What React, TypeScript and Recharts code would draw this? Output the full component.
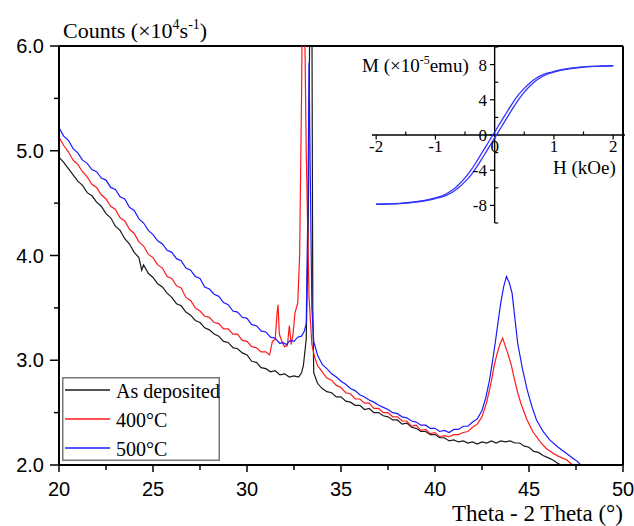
import React from 'react';
import { LineChart, Line, XAxis, YAxis, ReferenceLine, Legend } from 'recharts';

// ---- main XRD chart ----
const xTicks = [20, 22.5, 25, 27.5, 30, 32.5, 35, 37.5, 40, 42.5, 45, 47.5, 50];
const yTicks = [2, 2.5, 3, 3.5, 4, 4.5, 5, 5.5, 6];

const asDeposited: [number, number][] = [
  [20.0, 4.94], [20.25, 4.89], [20.5, 4.83], [20.75, 4.77], [21.0, 4.71], [21.25, 4.67], [21.5, 4.6], [21.75, 4.57],
  [22.0, 4.51], [22.25, 4.47], [22.5, 4.4], [22.75, 4.36], [23.0, 4.28], [23.25, 4.24], [23.5, 4.16], [23.75, 4.11],
  [24.0, 4.03], [24.25, 3.98], [24.4, 3.86], [24.5, 3.91], [24.75, 3.83], [25.0, 3.79], [25.25, 3.73], [25.5, 3.7],
  [25.75, 3.64], [26.0, 3.6], [26.25, 3.54], [26.5, 3.52], [26.75, 3.46], [27.0, 3.43], [27.25, 3.38], [27.5, 3.36],
  [27.75, 3.31], [28.0, 3.29], [28.25, 3.25], [28.5, 3.23], [28.75, 3.18], [29.0, 3.17], [29.25, 3.12], [29.5, 3.11],
  [29.75, 3.07], [30.0, 3.05], [30.25, 2.99], [30.5, 2.98], [30.75, 2.93], [31.0, 2.92], [31.25, 2.89], [31.5, 2.9],
  [31.75, 2.86], [32.0, 2.87], [32.25, 2.84], [32.5, 2.85], [32.75, 2.84], [32.9, 2.88], [33.0, 2.95], [33.15, 3.2],
  [33.25, 4.2], [33.35, 6.5], [33.45, 6.5], [33.5, 3.5], [33.55, 2.88], [33.75, 2.78], [34.0, 2.73], [34.25, 2.7],
  [34.5, 2.69], [34.75, 2.65], [35.0, 2.65], [35.25, 2.61], [35.5, 2.6], [35.75, 2.57], [36.0, 2.57], [36.25, 2.53],
  [36.5, 2.54], [36.75, 2.5], [37.0, 2.5], [37.25, 2.47], [37.5, 2.46], [37.75, 2.43], [38.0, 2.43], [38.25, 2.39],
  [38.5, 2.4], [38.75, 2.36], [39.0, 2.35], [39.25, 2.32], [39.5, 2.32], [39.75, 2.29], [40.0, 2.29], [40.25, 2.26],
  [40.5, 2.26], [40.75, 2.23], [41.0, 2.24], [41.25, 2.22], [41.5, 2.23], [41.75, 2.21], [42.0, 2.22], [42.25, 2.2],
  [42.5, 2.22], [42.75, 2.21], [43.0, 2.23], [43.25, 2.21], [43.5, 2.23], [43.75, 2.22], [44.0, 2.23], [44.25, 2.21],
  [44.5, 2.21], [44.75, 2.18], [45.0, 2.17], [45.25, 2.13], [45.5, 2.12], [45.75, 2.09], [46.0, 2.07], [46.25, 2.05],
  [46.5, 2.02], [46.7, 2.0],
];

const annealed400: [number, number][] = [
  [20.0, 5.13], [20.25, 5.05], [20.5, 4.99], [20.75, 4.91], [21.0, 4.87], [21.25, 4.8], [21.5, 4.75], [21.75, 4.68],
  [22.0, 4.65], [22.25, 4.58], [22.5, 4.54], [22.75, 4.47], [23.0, 4.44], [23.25, 4.36], [23.5, 4.33], [23.75, 4.25],
  [24.0, 4.21], [24.25, 4.13], [24.5, 4.09], [24.75, 4.01], [25.0, 3.98], [25.25, 3.91], [25.5, 3.88], [25.75, 3.8],
  [26.0, 3.78], [26.25, 3.71], [26.5, 3.69], [26.75, 3.6], [27.0, 3.57], [27.25, 3.5], [27.5, 3.47], [27.75, 3.42],
  [28.0, 3.41], [28.25, 3.36], [28.5, 3.35], [28.75, 3.3], [29.0, 3.3], [29.25, 3.25], [29.5, 3.25], [29.75, 3.19],
  [30.0, 3.18], [30.25, 3.13], [30.5, 3.12], [30.75, 3.08], [31.0, 3.08], [31.2, 3.05], [31.35, 3.18], [31.5, 3.2],
  [31.6, 3.45], [31.65, 3.53], [31.72, 3.25], [31.85, 3.18], [32.0, 3.13], [32.15, 3.14], [32.25, 3.33], [32.35, 3.15],
  [32.45, 3.25], [32.55, 3.45], [32.7, 3.55], [32.8, 4.0], [32.9, 5.5], [32.95, 6.5], [33.05, 6.5], [33.15, 5.0],
  [33.3, 3.6], [33.45, 3.15], [33.6, 3.03], [33.75, 2.95], [34.0, 2.89], [34.25, 2.83], [34.5, 2.81], [34.75, 2.76],
  [35.0, 2.74], [35.25, 2.69], [35.5, 2.68], [35.75, 2.63], [36.0, 2.63], [36.25, 2.59], [36.5, 2.59], [36.75, 2.54],
  [37.0, 2.54], [37.25, 2.5], [37.5, 2.5], [37.75, 2.46], [38.0, 2.46], [38.25, 2.42], [38.5, 2.42], [38.75, 2.37],
  [39.0, 2.38], [39.25, 2.33], [39.5, 2.34], [39.75, 2.3], [40.0, 2.31], [40.25, 2.27], [40.5, 2.28], [40.75, 2.27],
  [41.0, 2.29], [41.25, 2.29], [41.5, 2.31], [41.75, 2.32], [42.0, 2.36], [42.25, 2.39], [42.5, 2.46], [42.75, 2.6],
  [43.0, 2.8], [43.15, 2.95], [43.3, 3.06], [43.45, 3.15], [43.6, 3.21], [43.75, 3.13], [43.9, 3.05], [44.05, 2.96],
  [44.2, 2.84], [44.4, 2.69], [44.6, 2.57], [44.9, 2.43], [45.2, 2.32], [45.6, 2.22], [45.9, 2.16], [46.3, 2.11],
  [46.6, 2.08], [47.0, 2.05], [47.3, 2.0],
];

const annealed500: [number, number][] = [
  [20.0, 5.22], [20.25, 5.14], [20.5, 5.1], [20.75, 5.02], [21.0, 4.98], [21.25, 4.91], [21.5, 4.88], [21.75, 4.82],
  [22.0, 4.8], [22.25, 4.74], [22.5, 4.72], [22.75, 4.65], [23.0, 4.63], [23.25, 4.56], [23.5, 4.54], [23.75, 4.46],
  [24.0, 4.43], [24.25, 4.35], [24.5, 4.31], [24.75, 4.24], [25.0, 4.2], [25.25, 4.14], [25.5, 4.11], [25.75, 4.05],
  [26.0, 4.03], [26.25, 3.97], [26.5, 3.95], [26.75, 3.88], [27.0, 3.86], [27.25, 3.8], [27.5, 3.78], [27.75, 3.7],
  [28.0, 3.68], [28.25, 3.63], [28.5, 3.61], [28.75, 3.55], [29.0, 3.53], [29.25, 3.47], [29.5, 3.46], [29.75, 3.41],
  [30.0, 3.4], [30.25, 3.34], [30.5, 3.33], [30.75, 3.28], [31.0, 3.27], [31.25, 3.22], [31.5, 3.21], [31.75, 3.16],
  [31.9, 3.17], [32.1, 3.15], [32.3, 3.19], [32.5, 3.18], [32.7, 3.22], [32.9, 3.23], [33.05, 3.28], [33.15, 3.35],
  [33.25, 4.6], [33.3, 5.84], [33.35, 5.0], [33.45, 3.5], [33.55, 3.18], [33.75, 3.05], [34.0, 2.96], [34.25, 2.92],
  [34.5, 2.87], [34.75, 2.84], [35.0, 2.8], [35.25, 2.77], [35.5, 2.73], [35.75, 2.71], [36.0, 2.67], [36.25, 2.65],
  [36.5, 2.62], [36.75, 2.6], [37.0, 2.57], [37.25, 2.55], [37.5, 2.53], [37.75, 2.5], [38.0, 2.49], [38.25, 2.46],
  [38.5, 2.45], [38.75, 2.42], [39.0, 2.41], [39.25, 2.38], [39.5, 2.38], [39.75, 2.35], [40.0, 2.35], [40.25, 2.32],
  [40.5, 2.33], [40.75, 2.31], [41.0, 2.34], [41.25, 2.34], [41.5, 2.37], [41.75, 2.37], [42.0, 2.41], [42.25, 2.44],
  [42.5, 2.52], [42.7, 2.64], [42.9, 2.81], [43.05, 2.98], [43.2, 3.16], [43.35, 3.36], [43.5, 3.55], [43.65, 3.7],
  [43.8, 3.8], [43.95, 3.74], [44.1, 3.64], [44.25, 3.4], [44.4, 3.16], [44.65, 2.92], [44.9, 2.72], [45.15, 2.56],
  [45.4, 2.43], [45.75, 2.32], [46.1, 2.24], [46.55, 2.17], [47.0, 2.11], [47.3, 2.07], [47.6, 2.03], [47.75, 2.0],
];

const seriesNames = ['As deposited', '400°C', '500°C'];
const seriesColors = ['#1a1a1a', '#ff1a1a', '#1a1aff'];

// ---- inset M-H loop ----
const hMajorTicks = [-2, -1, 0, 1, 2];
const hMinorTicks = [-1.5, -0.5, 0.5, 1.5];
const mMajorTicks = [-8, -4, 0, 4, 8];
const mMinorTicks = [-10, -6, -2, 2, 6, 10];

const upperBranch: [number, number][] = [
  [-2.0, -7.86], [-1.8, -7.83], [-1.6, -7.76], [-1.4, -7.64], [-1.2, -7.45], [-1.0, -7.15], [-0.9, -6.93], [-0.8, -6.62],
  [-0.7, -6.2], [-0.6, -5.6], [-0.5, -4.88], [-0.4, -4.0], [-0.3, -2.97], [-0.2, -1.87], [-0.1, -0.77], [0, 0.33],
  [0.1, 1.43], [0.2, 2.53], [0.3, 3.6], [0.4, 4.55], [0.5, 5.3], [0.6, 5.95], [0.7, 6.45], [0.8, 6.8], [0.9, 7.05],
  [1.0, 7.22], [1.2, 7.5], [1.4, 7.68], [1.6, 7.79], [1.8, 7.84], [2.0, 7.87],
];
const lowerBranch: [number, number][] = [
  [-2.0, -7.87], [-1.8, -7.84], [-1.6, -7.79], [-1.4, -7.68], [-1.2, -7.5], [-1.0, -7.22], [-0.9, -7.05], [-0.8, -6.8],
  [-0.7, -6.45], [-0.6, -5.95], [-0.5, -5.3], [-0.4, -4.55], [-0.3, -3.6], [-0.2, -2.53], [-0.1, -1.43], [0, -0.33],
  [0.1, 0.77], [0.2, 1.87], [0.3, 2.97], [0.4, 4.0], [0.5, 4.88], [0.6, 5.6], [0.7, 6.2], [0.8, 6.62], [0.9, 6.93],
  [1.0, 7.15], [1.2, 7.45], [1.4, 7.64], [1.6, 7.76], [1.8, 7.83], [2.0, 7.86],
];

const SERIF = 'Liberation Serif';
const SANS = 'Liberation Sans';

const toXrd = (pts: [number, number][]) => pts.map(([t, c]) => ({ t, c }));
const toMH = (pts: [number, number][]) => pts.map(([h, m]) => ({ h, m }));

const XTick = (props: any) => {
  const { x, y, payload } = props;
  const v = payload.value;
  const major = v % 5 === 0;
  return (
    <g>
      <line x1={x} y1={y} x2={x} y2={y + (major ? 7 : 5)} stroke="#000" strokeWidth={1.5} />
      {major && (
        <text x={x} y={y + 31} textAnchor="middle" fontSize={20} fontFamily={SANS} fill="#000">
          {v}
        </text>
      )}
    </g>
  );
};

const YTick = (props: any) => {
  const { x, y, payload } = props;
  const v = payload.value;
  const major = Number.isInteger(v);
  return (
    <g>
      <line x1={x} y1={y} x2={x - (major ? 9 : 5)} y2={y} stroke="#000" strokeWidth={1.5} />
      {major && (
        <text x={x - 15} y={y + 7} textAnchor="end" fontSize={20} fontFamily={SANS} fill="#000">
          {v.toFixed(1)}
        </text>
      )}
    </g>
  );
};

const LegendBox = (props: any) => {
  const items = [...(props.payload || [])].sort(
    (a: any, b: any) => seriesNames.indexOf(a.value) - seriesNames.indexOf(b.value)
  );
  return (
    <svg width={158} height={84} style={{ display: 'block' }}>
      <rect x={0.75} y={0.75} width={156.5} height={82.5} fill="#fff" stroke="#777" strokeWidth={1.5} />
      {items.map((it: any, i: number) => {
        const ly = 13 + i * 29;
        return (
          <g key={i}>
            <line x1={3} y1={ly} x2={48} y2={ly} stroke={it.color} strokeWidth={1.5} />
            <text x={54} y={ly + 8} fontSize={20} fontFamily={SERIF} fill="#000">
              {it.value}
            </text>
          </g>
        );
      })}
    </svg>
  );
};

const insetLabel = (value: string, position: string, offset = 4) => ({
  value,
  position,
  offset,
  fill: '#000',
  fontSize: 17,
  fontFamily: SERIF,
});

export default function App() {
  const xrd = [asDeposited, annealed400, annealed500];
  return (
    <div style={{ position: 'absolute', left: 0, top: 0, width: 634, height: 526, background: '#fff' }}>
      <LineChart
        width={634}
        height={526}
        margin={{ top: 46, right: 11, left: 0, bottom: 0 }}
        style={{ position: 'absolute', left: 0, top: 0 }}
      >
        <XAxis
          type="number"
          dataKey="t"
          domain={[20, 50]}
          ticks={xTicks}
          interval={0}
          height={61}
          allowDataOverflow
          axisLine={{ stroke: '#000', strokeWidth: 2 }}
          tickLine={false}
          tickSize={0}
          tickMargin={0}
          tick={<XTick />}
        />
        <YAxis
          type="number"
          domain={[2, 6]}
          ticks={yTicks}
          interval={0}
          width={59}
          allowDataOverflow
          axisLine={{ stroke: '#000', strokeWidth: 2 }}
          tickLine={false}
          tickSize={0}
          tickMargin={0}
          tick={<YTick />}
        />
        <ReferenceLine y={6} stroke="#000" strokeWidth={2} />
        <ReferenceLine x={50} stroke="#000" strokeWidth={2} />
        {xrd.map((pts, i) => (
          <Line
            key={i}
            data={toXrd(pts)}
            dataKey="c"
            name={seriesNames[i]}
            type="linear"
            stroke={seriesColors[i]}
            strokeWidth={1.2}
            dot={false}
            isAnimationActive={false}
          />
        ))}
        <Legend
          layout="horizontal"
          verticalAlign="middle"
          align="center"
          content={<LegendBox />}
          wrapperStyle={{ position: 'absolute', left: 62, top: 377, width: 158, height: 84 }}
        />
      </LineChart>

      <LineChart
        width={300}
        height={220}
        margin={{ top: 17, right: 5, left: 42, bottom: 27 }}
        style={{ position: 'absolute', left: 330, top: 30 }}
      >
        <XAxis type="number" dataKey="h" domain={[-2.07, 2.2]} hide allowDataOverflow />
        <YAxis type="number" domain={[-10, 10]} hide allowDataOverflow />
        <ReferenceLine y={0} stroke="#000" strokeWidth={1.4} />
        <ReferenceLine x={0} stroke="#000" strokeWidth={1.4} />
        {hMajorTicks.map((h) => (
          <ReferenceLine
            key={'hx' + h}
            segment={[{ x: h, y: 0 }, { x: h, y: -0.5 }]}
            stroke="#000"
            strokeWidth={1.2}
            label={insetLabel(String(h), 'bottom', 1)}
          />
        ))}
        {hMinorTicks.map((h) => (
          <ReferenceLine key={'hn' + h} segment={[{ x: h, y: 0 }, { x: h, y: 0.4 }]} stroke="#000" strokeWidth={1.2} />
        ))}
        {mMajorTicks.map((m) => (
          <ReferenceLine
            key={'my' + m}
            segment={[{ x: -0.08, y: m }, { x: 0, y: m }]}
            stroke="#000"
            strokeWidth={1.2}
            label={insetLabel(String(m), 'left', 3)}
          />
        ))}
        {mMinorTicks.map((m) => (
          <ReferenceLine key={'mn' + m} segment={[{ x: 0, y: m }, { x: 0.06, y: m }]} stroke="#000" strokeWidth={1.2} />
        ))}
        <Line data={toMH(upperBranch)} dataKey="m" type="monotone" stroke="#3333ff" strokeWidth={1.3} dot={false} isAnimationActive={false} />
        <Line data={toMH(lowerBranch)} dataKey="m" type="monotone" stroke="#3333ff" strokeWidth={1.3} dot={false} isAnimationActive={false} />
      </LineChart>

      <svg width={634} height={526} style={{ position: 'absolute', left: 0, top: 0, pointerEvents: 'none' }}>
        <text x={63} y={38} fontSize={22} fontFamily={SERIF} fill="#000">
          Counts (×10<tspan fontSize={14} dy={-9}>4</tspan>
          <tspan dy={9}>s</tspan>
          <tspan fontSize={14} dy={-9}>-1</tspan>
          <tspan dy={9}>)</tspan>
        </text>
        <text x={452} y={521} fontSize={23} fontFamily={SERIF} fill="#000">
          Theta - 2 Theta (°)
        </text>
        <text x={362} y={72} fontSize={19} fontFamily={SERIF} fill="#000">
          M (×10<tspan fontSize={12} dy={-8}>-5</tspan>
          <tspan dy={8}>emu)</tspan>
        </text>
        <text x={553} y={174} fontSize={19} fontFamily={SERIF} fill="#000">
          H (kOe)
        </text>
      </svg>
    </div>
  );
}
